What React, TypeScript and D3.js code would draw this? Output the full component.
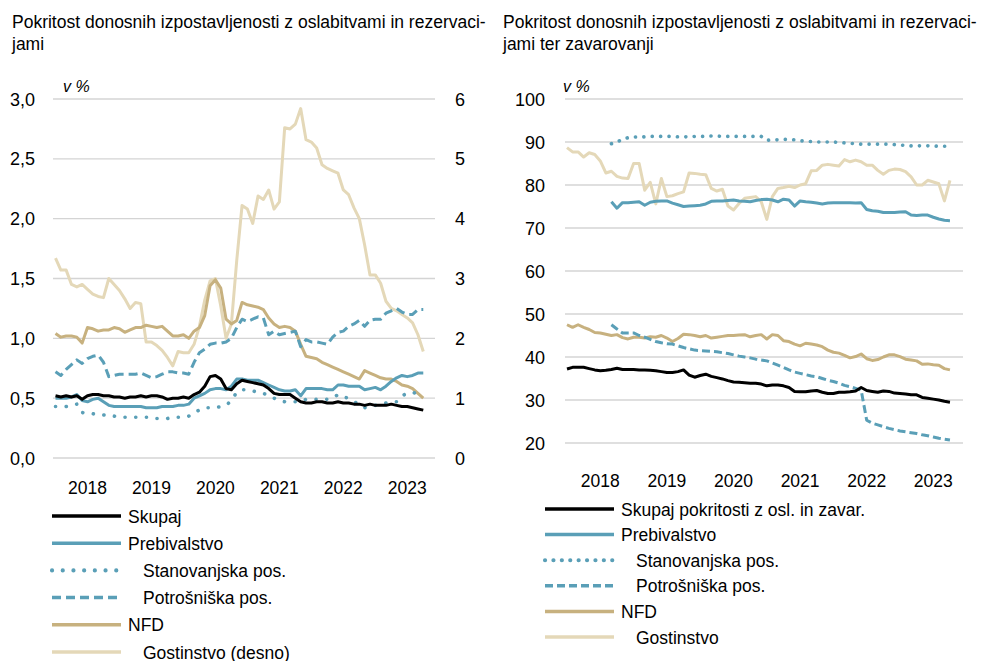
import React from "react";
import * as d3 from "d3";

// Jan 2018 .. Oct 2023, monthly
const months = d3.range(70);
const years = ["2018", "2019", "2020", "2021", "2022", "2023"];

// left chart, v % (Gostinstvo on right axis)
const lSkupaj = [
  0.52, 0.51, 0.52, 0.51, 0.52, 0.49, 0.52, 0.53, 0.53, 0.52,
  0.52, 0.51, 0.51, 0.50, 0.51, 0.51, 0.52, 0.51, 0.52, 0.52,
  0.51, 0.49, 0.50, 0.50, 0.51, 0.50, 0.53, 0.55, 0.60, 0.68,
  0.69, 0.66, 0.58, 0.57, 0.62, 0.65, 0.64, 0.63, 0.62, 0.61,
  0.58, 0.54, 0.53, 0.53, 0.53, 0.50, 0.47, 0.46, 0.46, 0.47,
  0.47, 0.46, 0.46, 0.47, 0.46, 0.46, 0.45, 0.45, 0.44, 0.45,
  0.44, 0.44, 0.44, 0.45, 0.44, 0.43, 0.43, 0.42, 0.41, 0.40,
];
const lPrebivalstvo = [
  0.50, 0.50, 0.50, 0.51, 0.53, 0.48, 0.47, 0.49, 0.50, 0.47,
  0.44, 0.43, 0.43, 0.43, 0.43, 0.43, 0.43, 0.42, 0.42, 0.42,
  0.43, 0.43, 0.43, 0.44, 0.44, 0.45, 0.50, 0.52, 0.54, 0.57,
  0.58, 0.58, 0.57, 0.60, 0.66, 0.66, 0.65, 0.65, 0.65, 0.63,
  0.61, 0.59, 0.57, 0.56, 0.56, 0.57, 0.52, 0.58, 0.58, 0.58,
  0.58, 0.57, 0.57, 0.61, 0.61, 0.60, 0.60, 0.60, 0.57, 0.58,
  0.59, 0.57, 0.60, 0.64, 0.67, 0.69, 0.68, 0.69, 0.71, 0.71,
];
const lStanovanjska = [
  0.43, 0.43, 0.43, 0.44, 0.45, 0.38, 0.37, 0.37, 0.36, 0.36,
  0.35, 0.35, 0.34, 0.34, 0.34, 0.34, 0.34, 0.34, 0.34, 0.33,
  0.33, 0.33, 0.34, 0.34, 0.34, 0.35, 0.38, 0.40, 0.42, 0.42,
  0.42, 0.43, 0.44, 0.48, 0.55, 0.57, 0.57, 0.56, 0.55, 0.54,
  0.52, 0.50, 0.48, 0.47, 0.47, 0.47, 0.47, 0.49, 0.49, 0.49,
  0.49, 0.49, 0.50, 0.53, 0.51, 0.50, 0.47, 0.45, 0.42, 0.43,
  0.44, 0.45, 0.46, 0.47, 0.47, 0.52, 0.54, 0.55, 0.53, 0.52,
];
const lPotrosniska = [
  0.72, 0.69, 0.74, 0.78, 0.82, 0.79, 0.83, 0.85, 0.86, 0.80,
  0.68, 0.69, 0.70, 0.70, 0.70, 0.70, 0.71, 0.69, 0.67, 0.68,
  0.70, 0.72, 0.72, 0.71, 0.71, 0.70, 0.80, 0.88, 0.91, 0.95,
  0.96, 0.96, 0.97, 1.00, 1.09, 1.16, 1.14, 1.16, 1.18, 1.17,
  1.03, 1.06, 1.03, 1.04, 1.05, 1.06, 0.93, 0.99, 0.97, 0.97,
  0.96, 0.95, 1.01, 1.05, 1.06, 1.10, 1.12, 1.15, 1.10, 1.15,
  1.16, 1.16, 1.21, 1.23, 1.25, 1.22, 1.20, 1.20, 1.24, 1.24,
];
const lNFD = [
  1.04, 1.01, 1.02, 1.02, 1.01, 0.96, 1.09, 1.08, 1.06, 1.07,
  1.07, 1.09, 1.08, 1.05, 1.07, 1.09, 1.09, 1.11, 1.10, 1.09,
  1.10, 1.06, 1.02, 1.02, 1.03, 1.00, 1.06, 1.09, 1.19, 1.44,
  1.49, 1.42, 1.16, 1.12, 1.15, 1.30, 1.28, 1.27, 1.26, 1.24,
  1.17, 1.12, 1.09, 1.10, 1.09, 1.06, 0.95, 0.85, 0.84, 0.83,
  0.80, 0.78, 0.76, 0.74, 0.72, 0.70, 0.68, 0.66, 0.73, 0.71,
  0.69, 0.67, 0.66, 0.66, 0.64, 0.61, 0.60, 0.58, 0.54, 0.50,
];
const lGostinstvo = [
  3.34, 3.14, 3.14, 2.90, 2.86, 2.90, 2.82, 2.74, 2.70, 2.68,
  3.00, 2.90, 2.80, 2.66, 2.50, 2.60, 2.58, 1.94, 1.94, 1.88,
  1.80, 1.68, 1.54, 1.78, 1.76, 1.76, 1.90, 2.20, 2.64, 2.96,
  3.00, 2.54, 2.00, 2.24, 3.30, 4.22, 4.16, 3.92, 4.38, 4.32,
  4.48, 4.16, 4.28, 5.52, 5.50, 5.58, 5.84, 5.32, 5.28, 5.18,
  4.90, 4.84, 4.80, 4.76, 4.48, 4.40, 4.18, 4.00, 3.56, 3.06,
  3.06, 2.92, 2.62, 2.50, 2.46, 2.40, 2.34, 2.26, 2.06, 1.78,
];

// right chart, v %
const _ = null;
const rSkupaj = [
  37.2, 37.6, 37.6, 37.6, 37.3, 37.0, 36.8, 36.9, 37.1, 37.4,
  37.1, 37.1, 37.1, 37.0, 37.0, 36.9, 36.8, 36.6, 36.4, 36.4,
  36.6, 37.0, 35.8, 35.3, 35.7, 36.0, 35.5, 35.2, 34.9, 34.5,
  34.2, 34.1, 34.0, 33.9, 33.9, 33.7, 33.3, 33.5, 33.5, 33.3,
  32.9, 32.0, 31.9, 31.9, 32.1, 32.2, 31.8, 31.5, 31.5, 31.8,
  31.8, 31.9, 32.1, 32.9, 32.2, 32.0, 31.8, 32.1, 32.0, 31.6,
  31.5, 31.4, 31.2, 31.2, 30.6, 30.4, 30.2, 30.0, 29.7, 29.5,
];
const rPrebivalstvo = [
  _, _, _, _, _, _, _, _, 76.1, 74.6,
  75.9, 75.9, 76.0, 76.1, 75.3, 76.0, 76.2, 76.3, 76.3, 75.8,
  75.4, 75.0, 75.1, 75.2, 75.3, 75.6, 76.2, 76.3, 76.3, 76.4,
  76.5, 76.3, 76.2, 76.1, 76.4, 76.6, 76.7, 76.5, 76.1, 76.7,
  76.5, 75.1, 76.3, 76.1, 76.0, 75.8, 75.6, 75.8, 75.9, 75.9,
  75.9, 75.9, 75.8, 75.9, 74.3, 74.0, 73.9, 73.6, 73.6, 73.6,
  73.7, 73.8, 73.0, 72.9, 73.0, 73.0, 72.5, 72.1, 71.8, 71.7,
];
const rStanovanjska = [
  _, _, _, _, _, _, _, _, 89.6, 90.0,
  90.6, 91.0, 91.2, 91.1, 91.2, 91.3, 91.3, 91.3, 91.3, 91.3,
  91.2, 91.2, 91.2, 91.3, 91.3, 91.3, 91.4, 91.4, 91.3, 91.3,
  91.3, 91.3, 91.3, 91.3, 91.3, 91.3, 90.4, 90.5, 90.5, 90.6,
  90.6, 90.5, 90.3, 90.2, 90.1, 90.0, 90.0, 90.0, 90.0, 89.9,
  89.8, 89.7, 89.6, 89.5, 89.5, 89.5, 89.5, 89.5, 89.5, 89.4,
  89.3, 89.2, 89.1, 89.1, 89.1, 89.1, 89.1, 89.0, 89.0, 89.0,
];
const rPotrosniska = [
  _, _, _, _, _, _, _, _, 47.5, 46.5,
  45.6, 45.6, 45.6, 45.0, 44.6, 44.1, 43.6, 43.3, 43.1, 43.0,
  42.6, 42.2, 41.9, 41.6, 41.5, 41.4, 41.3, 41.2, 41.0, 40.8,
  40.5, 40.2, 40.0, 39.8, 39.5, 39.3, 39.1, 38.6, 38.1, 37.6,
  37.0, 36.5, 36.2, 35.9, 35.6, 35.4, 35.0, 34.6, 34.3, 33.9,
  33.4, 33.1, 32.7, 32.3, 25.3, 24.6, 24.2, 23.8, 23.4, 23.1,
  22.8, 22.6, 22.4, 22.2, 21.9, 21.7, 21.4, 21.1, 20.9, 20.7,
];
const rNFD = [
  47.5, 46.9, 47.5, 46.9, 46.4, 45.7, 45.6, 45.3, 45.0, 45.2,
  44.5, 44.2, 44.6, 44.6, 44.4, 44.7, 44.6, 45.0, 44.4, 43.6,
  44.3, 45.3, 45.2, 45.0, 44.7, 45.0, 44.4, 44.6, 44.8, 45.0,
  45.0, 45.1, 45.2, 44.7, 45.0, 45.2, 44.2, 45.2, 45.0, 43.8,
  43.6, 43.0, 42.6, 43.2, 43.0, 42.8, 42.4, 41.6, 41.1, 40.9,
  40.4, 39.8, 40.1, 40.7, 39.6, 39.2, 39.4, 40.0, 40.5, 40.5,
  40.1, 39.5, 39.3, 39.1, 38.3, 38.4, 38.2, 38.1, 37.3, 37.0,
];
const rGostinstvo = [
  88.7, 87.7, 87.7, 86.5, 87.5, 87.1, 85.6, 82.8, 83.2, 82.0,
  81.6, 81.5, 85.0, 85.0, 78.8, 80.6, 75.6, 81.5, 77.3, 77.5,
  78.0, 78.4, 82.8, 82.7, 82.5, 82.4, 79.2, 78.6, 79.0, 75.1,
  74.2, 75.7, 76.9, 77.1, 77.3, 76.1, 72.0, 77.3, 79.2, 79.4,
  79.7, 79.4, 80.0, 80.3, 83.3, 83.4, 84.6, 84.8, 84.6, 84.4,
  85.9, 85.4, 85.8, 85.4, 84.6, 84.6, 83.4, 82.5, 83.4, 83.7,
  83.6, 83.1, 81.9, 80.0, 80.0, 81.1, 80.7, 80.3, 76.3, 81.1,
];

const leftTicks = [0, 0.5, 1, 1.5, 2, 2.5, 3];
const leftTicks2 = [0, 1, 2, 3, 4, 5, 6];
const rightTicks = [20, 30, 40, 50, 60, 70, 80, 90, 100];

const leftLegend = ["Skupaj", "Prebivalstvo", "Stanovanjska pos.", "Potrošniška pos.", "NFD", "Gostinstvo (desno)"];
const rightLegend = ["Skupaj pokritosti z osl. in zavar.", "Prebivalstvo", "Stanovanjska pos.", "Potrošniška pos.", "NFD", "Gostinstvo"];

const FONT = "'Liberation Sans', Arial, sans-serif";
const TEAL = "#5a9fb7";
const TAN = "#c7b17f";
const BEIGE = "#e4d8b8";
const GRID = "#d4d4d4";

type Style = { color: string; width: number; dash?: string; cap?: "round" | "butt"; indent: boolean };

const styles = (dot: string, dash: string): Style[] => [
  { color: "#000", width: 3, indent: false },
  { color: TEAL, width: 3, indent: false },
  { color: TEAL, width: 3.6, dash: dot, cap: "round", indent: true },
  { color: TEAL, width: 3, dash: dash, indent: true },
  { color: TAN, width: 3, indent: false },
  { color: BEIGE, width: 3, indent: true },
];

const comma = (v: number) => d3.format(".1f")(v).replace(".", ",");

function LeftChart() {
  const x = d3.scaleLinear().domain([-0.47, 71.2]).range([53, 435]);
  const y = d3.scaleLinear().domain([0, 3]).range([458, 99]);
  const y2 = d3.scaleLinear().domain([0, 6]).range([458, 99]);
  const st = styles("0.1 10.6", "9 5");
  const line = (sc: d3.ScaleLinear<number, number>) =>
    d3.line<number | null>().defined((d) => d != null).x((_d, i) => x(months[i])).y((d) => sc(d as number));
  const series: [number[], d3.ScaleLinear<number, number>, Style][] = [
    [lSkupaj, y, st[0]],
    [lPrebivalstvo, y, st[1]],
    [lStanovanjska, y, st[2]],
    [lPotrosniska, y, st[3]],
    [lNFD, y, st[4]],
    [lGostinstvo, y2, st[5]],
  ];
  const order = [5, 4, 3, 2, 1, 0];
  return (
    <g>
      <text x={12} y={28} fontSize={17.5}>Pokritost donosnih izpostavljenosti z oslabitvami in rezervaci-</text>
      <text x={12} y={50} fontSize={17.5}>jami</text>
      {leftTicks.map((t) => (
        <g key={t}>
          <line x1={53} x2={435} y1={y(t)} y2={y(t)} stroke={GRID} strokeWidth={1.3} />
          <text x={35} y={y(t) + 6.5} textAnchor="end" fontSize={18}>{comma(t)}</text>
        </g>
      ))}
      {leftTicks2.map((t) => (
        <text key={t} x={455} y={y2(t) + 6.5} fontSize={18}>{t}</text>
      ))}
      <text x={63} y={92} fontSize={16} fontStyle="italic">v %</text>
      {years.map((yr, i) => (
        <text key={yr} x={x(6 + 12 * i)} y={494} textAnchor="middle" fontSize={17.5}>{yr}</text>
      ))}
      {order.map((k) => {
        const [data, sc, s] = series[k];
        return (
          <path key={k} d={line(sc)(data) || ""} fill="none" stroke={s.color} strokeWidth={s.width}
            strokeDasharray={s.dash} strokeLinecap={s.cap || "butt"} strokeLinejoin="round" />
        );
      })}
      {leftLegend.map((lab, i) => {
        const s = st[i];
        const ly = 516 + i * 27.2;
        return (
          <g key={lab}>
            <line x1={52} x2={121} y1={ly} y2={ly} stroke={s.color} strokeWidth={s.width + 0.5}
              strokeDasharray={s.dash} strokeLinecap={s.cap || "butt"} />
            <text x={s.indent ? 143 : 128} y={ly + 6.5} fontSize={17.5}>{lab}</text>
          </g>
        );
      })}
    </g>
  );
}

function RightChart() {
  const x = d3.scaleLinear().domain([-0.36, 71.35]).range([565, 963]);
  const y = d3.scaleLinear().domain([20, 100]).range([443, 99]);
  const st = styles("0.1 8.3", "8 4");
  const line = d3.line<number | null>().defined((d) => d != null).x((_d, i) => x(months[i])).y((d) => y(d as number));
  const series: (number | null)[][] = [rSkupaj, rPrebivalstvo, rStanovanjska, rPotrosniska, rNFD, rGostinstvo];
  const order = [5, 4, 3, 2, 1, 0];
  return (
    <g>
      <text x={503} y={28} fontSize={17.5}>Pokritost donosnih izpostavljenosti z oslabitvami in rezervaci-</text>
      <text x={503} y={50} fontSize={17.5}>jami ter zavarovanji</text>
      {rightTicks.map((t) => (
        <g key={t}>
          <line x1={565} x2={963} y1={y(t)} y2={y(t)} stroke={GRID} strokeWidth={1.3} />
          <text x={545} y={y(t) + 6.5} textAnchor="end" fontSize={18}>{t}</text>
        </g>
      ))}
      <text x={563} y={92} fontSize={16} fontStyle="italic">v %</text>
      {years.map((yr, i) => (
        <text key={yr} x={x(6 + 12 * i)} y={487} textAnchor="middle" fontSize={17.5}>{yr}</text>
      ))}
      {order.map((k) => {
        const s = st[k];
        return (
          <path key={k} d={line(series[k]) || ""} fill="none" stroke={s.color} strokeWidth={s.width}
            strokeDasharray={s.dash} strokeLinecap={s.cap || "butt"} strokeLinejoin="round" />
        );
      })}
      {rightLegend.map((lab, i) => {
        const s = st[i];
        const ly = 509 + i * 25.6;
        return (
          <g key={lab}>
            <line x1={545} x2={614} y1={ly} y2={ly} stroke={s.color} strokeWidth={s.width + 0.5}
              strokeDasharray={s.dash} strokeLinecap={s.cap || "butt"} />
            <text x={s.indent ? 636 : 621} y={ly + 6.5} fontSize={17.5}>{lab}</text>
          </g>
        );
      })}
    </g>
  );
}

export default function App() {
  return (
    <svg width={993} height={661} style={{ position: "absolute", left: 0, top: 0, background: "#fff" }}
      fontFamily={FONT} fill="#000">
      <rect width={993} height={661} fill="#fff" />
      <LeftChart />
      <RightChart />
    </svg>
  );
}
